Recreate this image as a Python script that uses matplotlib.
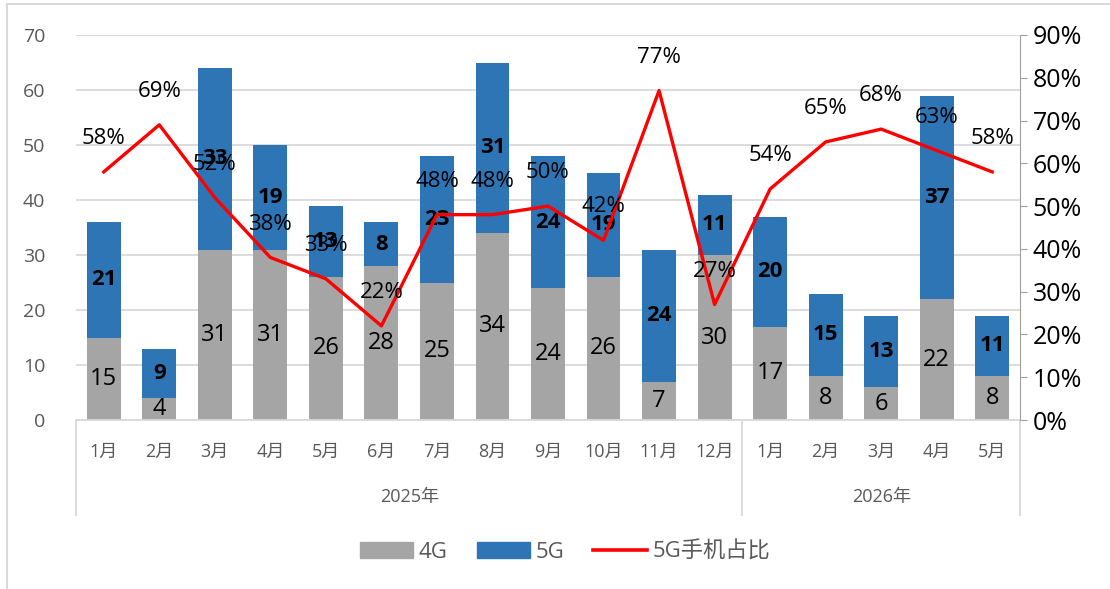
import matplotlib
matplotlib.use('Agg')
import matplotlib.pyplot as plt
import matplotlib.patches as mpatches
from matplotlib.lines import Line2D
import numpy as np

plt.rcParams['font.family'] = ['Open Sans', 'Noto Sans CJK SC', 'DejaVu Sans']

months = ['1月', '2月', '3月', '4月', '5月', '6月', '7月', '8月', '9月', '10月', '11月', '12月',
          '1月', '2月', '3月', '4月', '5月']
years = ['2025年', '2026年']
year_counts = [12, 5]
g4 = [15, 4, 31, 31, 26, 28, 25, 34, 24, 26, 7, 30, 17, 8, 6, 22, 8]
g5 = [21, 9, 33, 19, 13, 8, 23, 31, 24, 19, 24, 11, 20, 15, 13, 37, 11]
ratio = [58, 69, 52, 38, 33, 22, 48, 48, 50, 42, 77, 27, 54, 65, 68, 63, 58]

gray = '#A5A5A5'
blue = '#2E75B6'
red = '#FF0000'
txt = '#595959'

fig = plt.figure(figsize=(11.1, 5.89), dpi=100)
ax = fig.add_axes([76/1110, 1-420/589, (1020-76)/1110, 385/589])
ax2 = ax.twinx()

x = np.arange(len(months))
w = 0.61
ax.bar(x, g4, w, color=gray, zorder=2)
ax.bar(x, g5, w, bottom=g4, color=blue, zorder=2)

for i in range(len(x)):
    ax.text(x[i], g4[i]/2, str(g4[i]), ha='center', va='center', fontsize=17, color='black', zorder=5)
    ax.text(x[i], g4[i] + g5[i]/2, str(g5[i]), ha='center', va='center', fontsize=16,
            fontweight='bold', color='black', zorder=5)

ax.set_xlim(-0.5, len(x) - 0.5)
ax.set_ylim(0, 70)
ax.set_yticks(range(0, 71, 10))
ax.grid(axis='y', color='#D9D9D9', linewidth=1.3, zorder=0)
ax.set_axisbelow(True)
ax.tick_params(axis='y', length=0, labelsize=14, labelcolor=txt, pad=22)
ax.set_xticks([])
for s in ['top', 'right', 'left']:
    ax.spines[s].set_visible(False)
ax.spines['bottom'].set_color('#D9D9D9')
ax.spines['bottom'].set_linewidth(1.3)

r = np.array(ratio) / 100
ax2.plot(x, r, color=red, linewidth=2.4, zorder=4)
for i in range(len(x)):
    ax2.annotate(f'{ratio[i]}%', (x[i], r[i]), xytext=(0, 24), textcoords='offset points',
                 ha='center', va='center', fontsize=16, color='black', zorder=6)
ax2.set_ylim(0, 0.9)
ax2.set_yticks(np.arange(0, 0.91, 0.1))
ax2.set_yticklabels([f'{int(round(v*100))}%' for v in np.arange(0, 0.91, 0.1)])
ax2.tick_params(axis='y', length=5, color='#A0A0A0', labelsize=18, labelcolor='black', pad=4)
for s in ['top', 'left', 'bottom']:
    ax2.spines[s].set_visible(False)
ax2.spines['right'].set_color('#A0A0A0')

# two-level category axis
tr = ax.get_xaxis_transform()
for i, m in enumerate(months):
    ax.text(x[i], -0.083, m, transform=tr, ha='center', va='center', fontsize=13, color=txt)
start = 0
seps = [-0.5]
for y, n in zip(years, year_counts):
    ax.text(start + (n - 1) / 2, -0.2, y, transform=tr, ha='center', va='center', fontsize=13, color=txt)
    start += n
    seps.append(start - 0.5)
for s in seps:
    ax.plot([s, s], [0, -0.247], transform=tr, color='#D9D9D9', linewidth=1.3, clip_on=False)

handles = [mpatches.Patch(color=gray, label='4G'),
           mpatches.Patch(color=blue, label='5G'),
           Line2D([0], [0], color=red, linewidth=2.6, label='5G手机占比')]
fig.legend(handles=handles, loc='center', bbox_to_anchor=(565/1110, 1-552/589), ncol=3,
           frameon=False, fontsize=16, labelcolor=txt, handlelength=2.4, handleheight=0.7,
           handletextpad=0.25, columnspacing=1.3)

fig.patches.append(mpatches.Rectangle((7/1110, -0.1), 1.2, 1 - 4/589 + 0.1, transform=fig.transFigure,
                                      fill=False, edgecolor='#D9D9D9', linewidth=1.5))

fig.savefig('out.png', dpi=100)
